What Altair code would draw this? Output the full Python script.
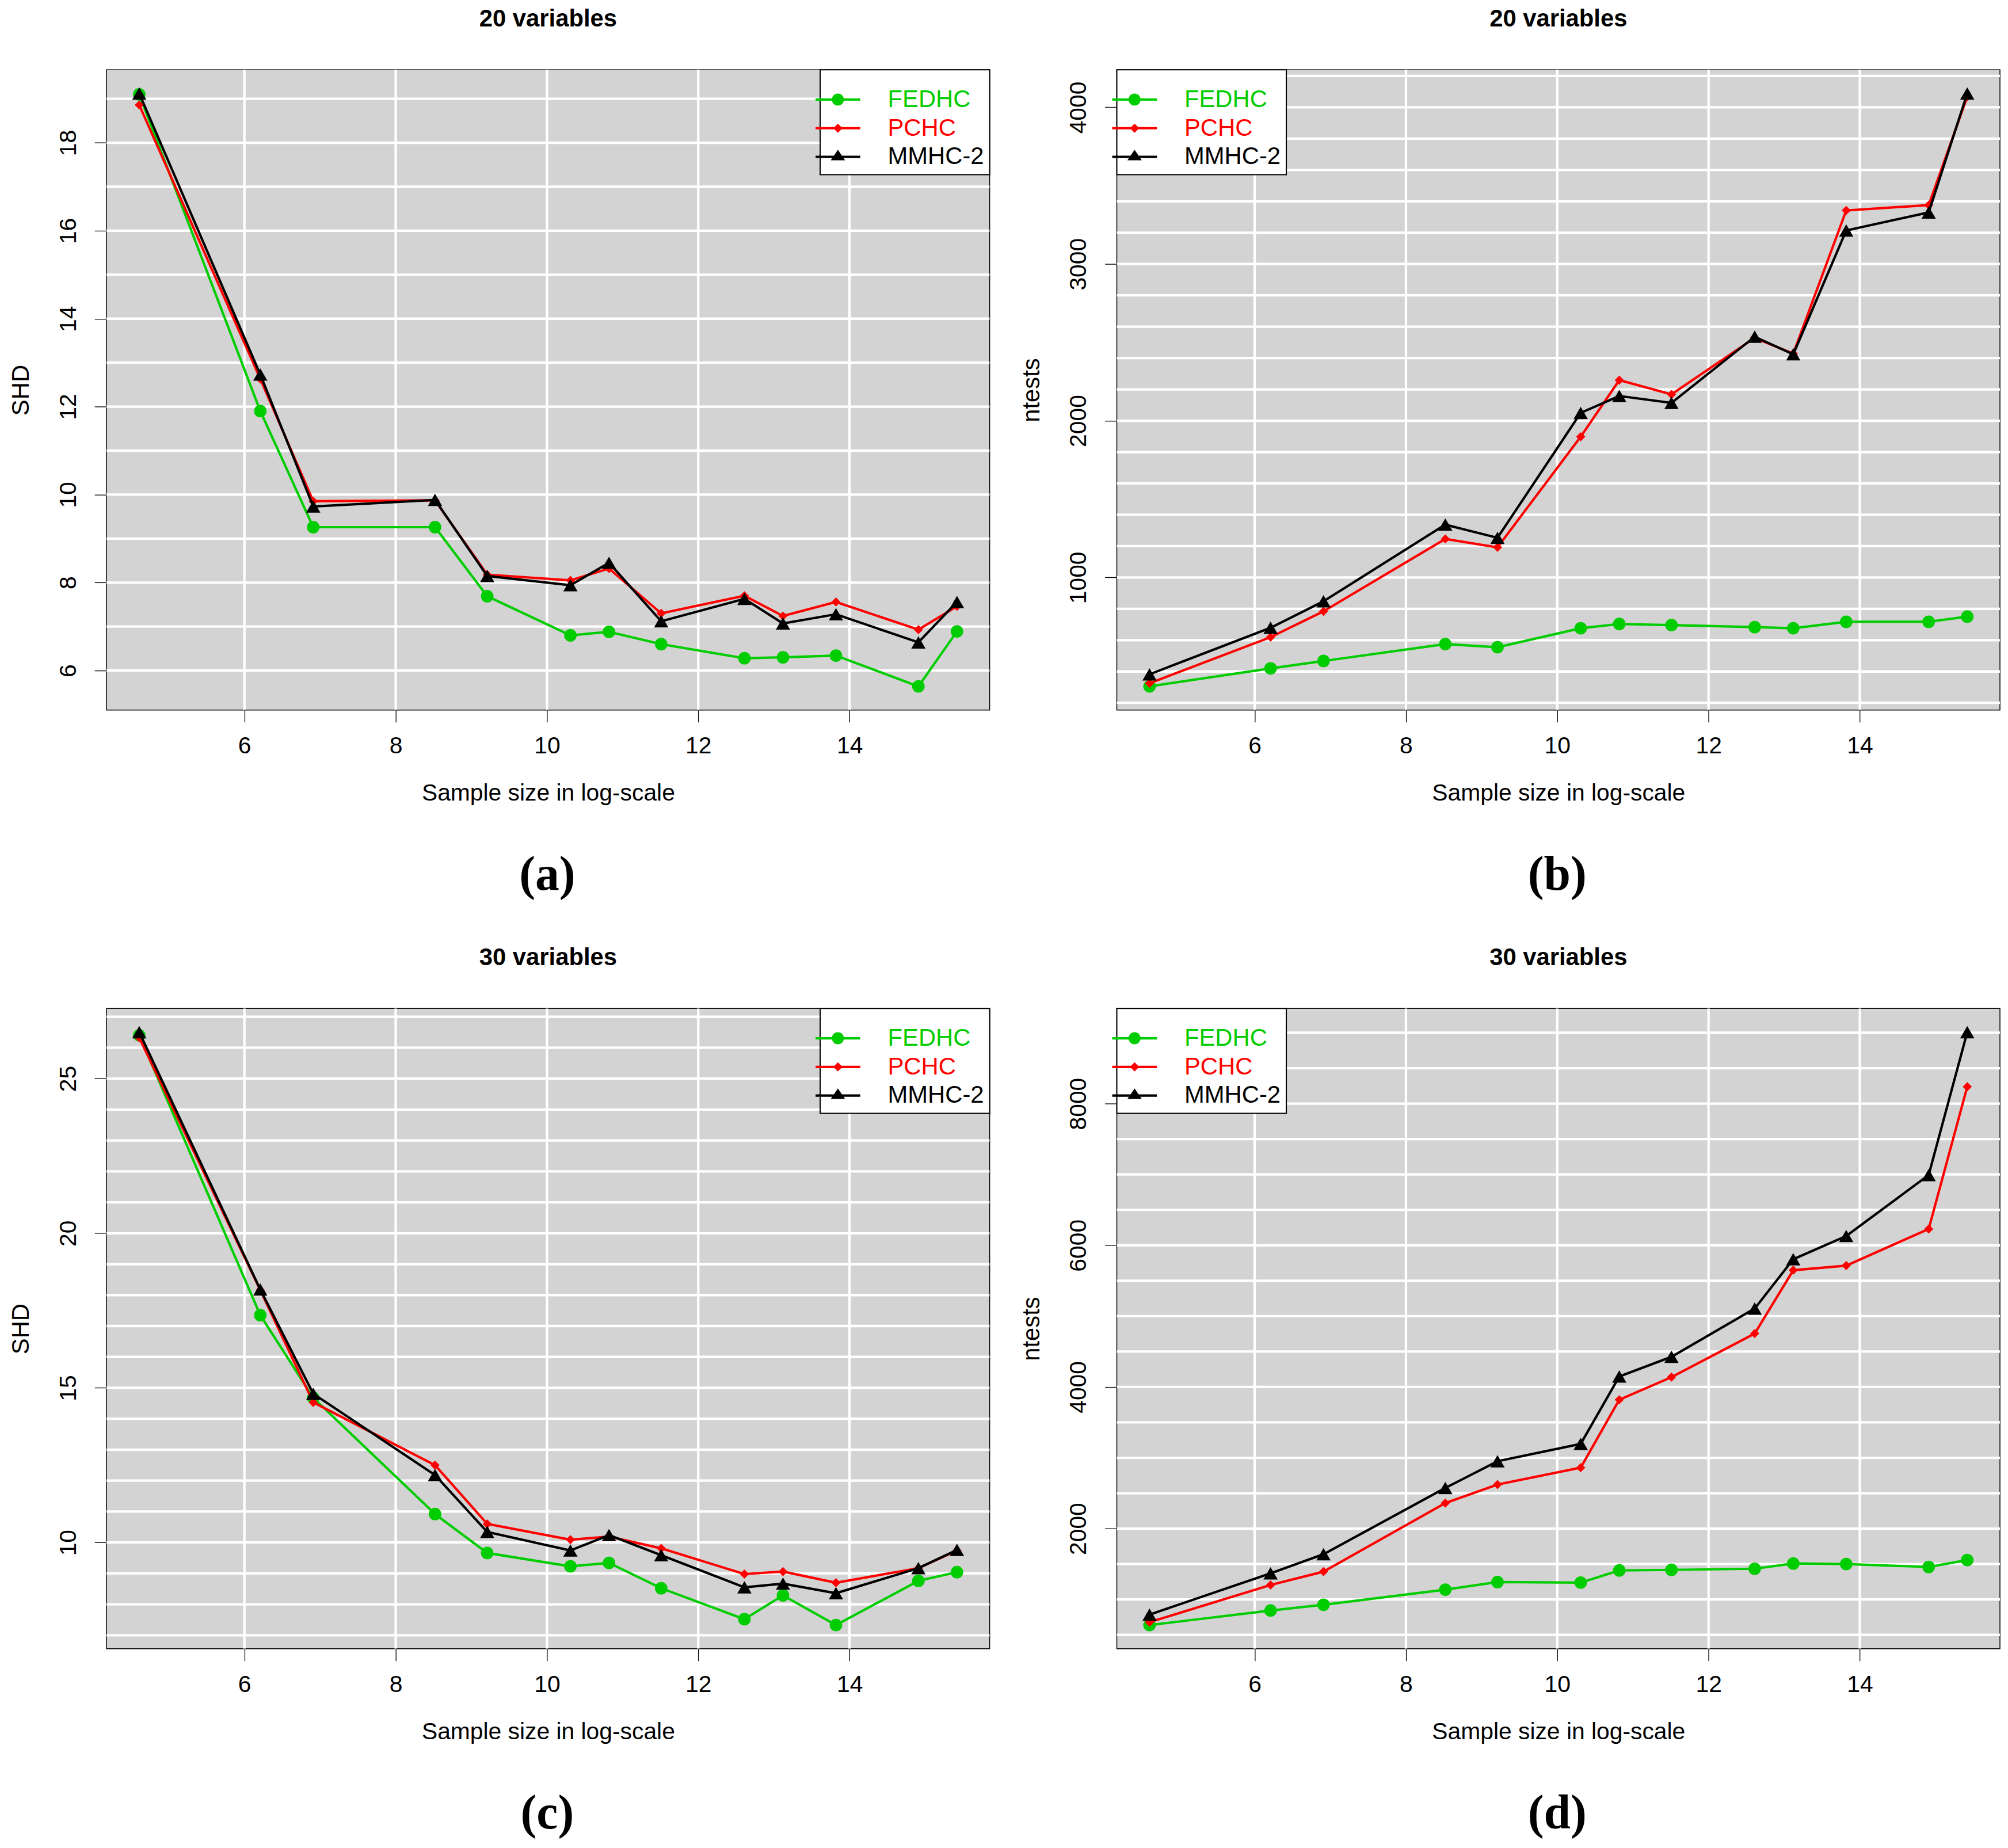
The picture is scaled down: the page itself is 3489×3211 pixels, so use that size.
import altair as alt
import pandas as pd

# ---------------- data ----------------
x_log = [4.61, 6.21, 6.91, 8.52, 9.21, 10.31, 10.82, 11.51, 12.61, 13.12, 13.82, 14.91, 15.42]
series_names = ["FEDHC", "PCHC", "MMHC-2"]
series_colors = ["#00CD00", "#FF0000", "#000000"]

shd20_fedhc = [19.10, 11.90, 9.26, 9.26, 7.69, 6.80, 6.88, 6.60, 6.28, 6.30, 6.34, 5.64, 6.89]
shd20_pchc = [18.86, 12.63, 9.85, 9.87, 8.18, 8.05, 8.32, 7.30, 7.70, 7.24, 7.56, 6.93, 7.46]
shd20_mmhc = [19.12, 12.73, 9.73, 9.88, 8.15, 7.94, 8.45, 7.12, 7.63, 7.07, 7.28, 6.64, 7.56]

nt20_fedhc = [305, 420, 467, 575, 555, 676, 703, 696, 683, 676, 717, 717, 750]
nt20_pchc = [325, 619, 784, 1246, 1192, 1898, 2259, 2168, 2529, 2428, 3342, 3376, 4068]
nt20_mmhc = [382, 679, 848, 1337, 1253, 2050, 2158, 2114, 2536, 2424, 3214, 3329, 4088]

shd30_fedhc = [26.40, 17.35, 14.68, 10.92, 9.66, 9.23, 9.34, 8.52, 7.52, 8.29, 7.33, 8.76, 9.04]
shd30_pchc = [26.32, 18.16, 14.53, 12.50, 10.60, 10.09, 10.19, 9.81, 8.98, 9.06, 8.70, 9.17, 9.74]
shd30_mmhc = [26.50, 18.18, 14.81, 12.18, 10.34, 9.74, 10.24, 9.59, 8.55, 8.67, 8.36, 9.17, 9.76]

nt30_fedhc = [639, 844, 926, 1139, 1246, 1238, 1410, 1418, 1434, 1508, 1500, 1459, 1557]
nt30_pchc = [680, 1205, 1393, 2361, 2623, 2861, 3820, 4139, 4754, 5648, 5713, 6230, 8238]
nt30_mmhc = [787, 1369, 1639, 2574, 2951, 3197, 4148, 4426, 5107, 5803, 6131, 6992, 9008]

x_ticks = [6, 8, 10, 12, 14]

panels = [
    dict(tag="(a)", title="20 variables", ylab="SHD",
         series=[shd20_fedhc, shd20_pchc, shd20_mmhc],
         yticks=[6, 8, 10, 12, 14, 16, 18], ygrid=list(range(6, 20, 1)), legend="top-right"),
    dict(tag="(b)", title="20 variables", ylab="ntests",
         series=[nt20_fedhc, nt20_pchc, nt20_mmhc],
         yticks=[1000, 2000, 3000, 4000], ygrid=list(range(200, 4201, 200)), legend="top-left"),
    dict(tag="(c)", title="30 variables", ylab="SHD",
         series=[shd30_fedhc, shd30_pchc, shd30_mmhc],
         yticks=[10, 15, 20, 25], ygrid=list(range(7, 28, 1)), legend="top-right"),
    dict(tag="(d)", title="30 variables", ylab="ntests",
         series=[nt30_fedhc, nt30_pchc, nt30_mmhc],
         yticks=[2000, 4000, 6000, 8000], ygrid=list(range(500, 9001, 500)), legend="top-left"),
]

# ---------------- styling ----------------
SANS = "Liberation Sans"
SERIF = "Liberation Serif"
PLOT_W, PLOT_H = 1542, 1118
LINE_W = 4.2
GRID_W = 4.3
BG = "#D3D3D3"

point_shapes = ["circle", "diamond", "triangle-up"]
point_sizes = [480, 256, 620]

# legend symbols: line segment + marker (units of half symbol width = 12 px)
bar = "M-3.25,-0.175H3.25V0.175H-3.25Z"
legend_paths = [
    bar + " M0.875,0A0.875,0.875,0,1,1,-0.875,0A0.875,0.875,0,1,1,0.875,0Z",
    bar + " M0,-0.667L0.667,0L0,0.667L-0.667,0Z",
    bar + " M0,-1.03L1.04,0.5L-1.04,0.5Z",
]

# label colour per entry (nested conditional built from the lists)
label_color_expr = "'%s'" % series_colors[-1]
for s, c in reversed(list(zip(series_names[:-1], series_colors[:-1]))):
    label_color_expr = "datum.label == '%s' ? '%s' : (%s)" % (s, c, label_color_expr)


def r_domain(values):
    lo, hi = min(values), max(values)
    pad = 0.04 * (hi - lo)
    return [lo - pad, hi + pad]


def make_panel(p):
    rows = []
    for name, vals in zip(series_names, p["series"]):
        for xv, yv in zip(x_log, vals):
            rows.append({"x": xv, "y": yv, "series": name})
    df = pd.DataFrame(rows)

    all_y = [v for s in p["series"] for v in s]
    xs = alt.Scale(domain=r_domain(x_log), nice=False, zero=False)
    ys = alt.Scale(domain=r_domain(all_y), nice=False, zero=False)

    x_axis = alt.Axis(values=x_ticks, title="Sample size in log-scale", grid=False, domain=False,
                      ticks=True, tickSize=21, tickWidth=1.3, tickColor="black",
                      labelFont=SANS, labelFontSize=41, labelColor="black", labelPadding=22,
                      labelAngle=0, labelFlush=False, labelOverlap=False, format="d",
                      titleFont=SANS, titleFontSize=41, titleFontWeight="normal",
                      titleColor="black", titlePadding=42)
    y_axis = alt.Axis(values=p["yticks"], title=p["ylab"], grid=False, domain=False,
                      ticks=True, tickSize=21, tickWidth=1.3, tickColor="black",
                      labelFont=SANS, labelFontSize=41, labelColor="black", labelPadding=24,
                      labelAngle=270, labelAlign="center", labelBaseline="bottom",
                      labelFlush=False, labelOverlap=False, format="d",
                      titleFont=SANS, titleFontSize=42, titleFontWeight="normal",
                      titleColor="black", titlePadding=40)

    xgrid = alt.Chart(pd.DataFrame({"gx": x_ticks})).mark_rule(
        color="white", strokeWidth=GRID_W, clip=True
    ).encode(x=alt.X("gx:Q", scale=xs, axis=x_axis))
    ygrid = alt.Chart(pd.DataFrame({"gy": p["ygrid"]})).mark_rule(
        color="white", strokeWidth=GRID_W, clip=True
    ).encode(y=alt.Y("gy:Q", scale=ys, axis=y_axis))

    layers = [xgrid, ygrid]
    for name, col, shp, sz in zip(series_names, series_colors, point_shapes, point_sizes):
        base = alt.Chart(df).transform_filter(alt.datum.series == name)
        enc = dict(
            x=alt.X("x:Q", scale=xs, axis=x_axis),
            y=alt.Y("y:Q", scale=ys, axis=y_axis),
        )
        layers.append(base.mark_line(color=col, strokeWidth=LINE_W, clip=True).encode(**enc))
        layers.append(base.mark_point(shape=shp, size=sz, filled=True, color=col, opacity=1,
                                      strokeWidth=0, clip=True).encode(**enc))

    leg = alt.Legend(title=" ", titleFontSize=12, titlePadding=9,
                     orient=p["legend"], offset=0, fillColor="white",
                     strokeColor="black", padding=10, symbolSize=576, symbolOffset=0,
                     labelOffset=66, labelFont=SANS, labelFontSize=42, labelLimit=500,
                     labelColor={"expr": label_color_expr}, rowPadding=8,
                     symbolStrokeWidth=0, symbolOpacity=1, zindex=2)
    cs = alt.Scale(domain=series_names, range=series_colors)
    legend_layer = alt.Chart(df).transform_filter("false").mark_point(
        filled=True, opacity=1
    ).encode(
        color=alt.Color("series:N", scale=cs, legend=leg),
        shape=alt.Shape("series:N", scale=alt.Scale(domain=series_names, range=legend_paths),
                        legend=leg),
    )
    layers.append(legend_layer)

    chart = alt.layer(*layers).properties(
        width=PLOT_W, height=PLOT_H,
        view=alt.ViewBackground(fill=BG, stroke="black", strokeWidth=1.5),
        title=alt.TitleParams(p["title"], font=SANS, fontSize=42, fontWeight="bold",
                              color="black", baseline="alphabetic", offset=33,
                              anchor="middle", frame="group"),
    )
    return alt.vconcat(chart, title=alt.TitleParams(
        p["tag"], orient="bottom", font=SERIF, fontSize=84, fontWeight="bold",
        color="black", baseline="alphabetic", offset=148, anchor="middle", dx=83)
    ).resolve_scale(color="independent", shape="independent"
    ).resolve_legend(color="independent", shape="independent")


pa, pb, pc, pd_ = [make_panel(p) for p in panels]
chart = alt.vconcat(
    alt.hconcat(pa, pb, spacing=49),
    alt.hconcat(pc, pd_, spacing=49),
    spacing=79,
).properties(
    padding={"left": 7, "top": -5, "right": 5, "bottom": 5}
).configure_view(
    fill=BG, stroke="black", strokeWidth=1.5
).configure_legend(
    strokeWidth=2
)

chart.save("out.html", embed_options={"renderer": "svg", "actions": False})
